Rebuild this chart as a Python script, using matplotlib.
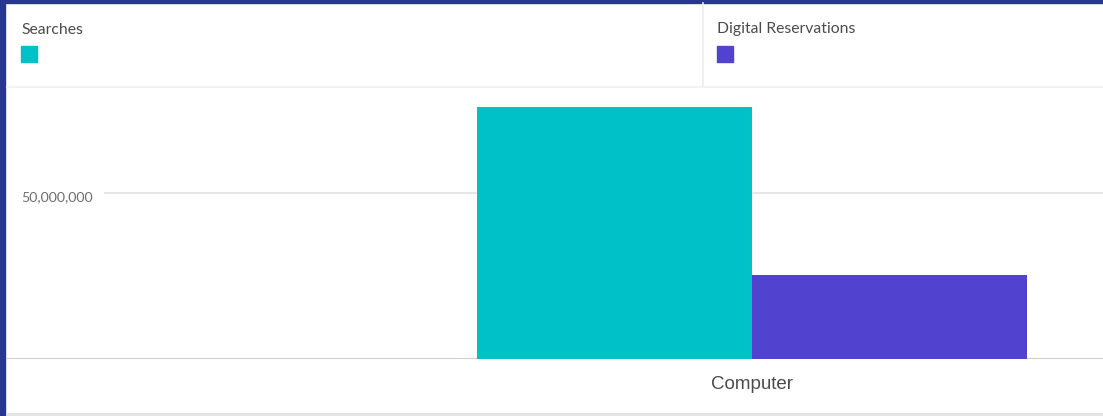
import matplotlib
matplotlib.use('Agg')
import matplotlib.pyplot as plt
from matplotlib.patches import Rectangle
from matplotlib.lines import Line2D
from matplotlib.transforms import ScaledTranslation

# ---- data ----
categories = ['Computer']
series_names = ['Searches', 'Digital Reservations']
searches = [76.0e6]
digital_reservations = [25.2e6]
ytick_values = [50_000_000]
ytick_labels = ['50,000,000']
colors = ['#00c1c8', '#5143cf']

W, H = 1103, 416
fig = plt.figure(figsize=(W / 100, H / 100), dpi=100)
fig.patch.set_facecolor('white')

def fx(px):
    return px / W

def fy(py):
    return 1 - py / H

# plot axes
ax_left, ax_right, ax_top, ax_bottom = 7, 1103, 87, 358.5
ax = fig.add_axes([fx(ax_left), fy(ax_bottom), fx(ax_right) - fx(ax_left), fy(ax_top) - fy(ax_bottom)])
ax.set_facecolor('white')

bw = 0.5
xs = list(range(len(categories)))
ax.bar([x - bw / 2 for x in xs], searches, width=bw, color=colors[0], zorder=3, linewidth=0)
ax.bar([x + bw / 2 for x in xs], digital_reservations, width=bw, color=colors[1], zorder=3, linewidth=0)

unit = 550.0  # px per category unit
ax.set_xlim(-(752 - ax_left) / unit, (ax_right - 752) / unit)
ax.set_ylim(0, (ax_bottom - ax_top) / 165.5 * 50e6)

for s in ax.spines.values():
    s.set_visible(False)
ax.axhline(0, color='#cfcfcf', lw=2.2, zorder=2)

# gridline
for v in ytick_values:
    ax.axhline(v, xmin=(105 - ax_left) / (ax_right - ax_left), xmax=1, color='#e4e4e4', lw=1.3, zorder=1)

ax.set_yticks(ytick_values)
ax.set_yticklabels(ytick_labels, fontsize=10.2, color='#6e6e6e', fontfamily='Lato', ha='left')
ax.tick_params(axis='y', length=0, pad=-(21 - ax_left) / 1.389)
for lbl in ax.get_yticklabels():
    lbl.set_transform(lbl.get_transform() + ScaledTranslation(0, -3 / 100, fig.dpi_scale_trans))

ax.set_xticks(xs)
ax.set_xticklabels(categories, fontsize=13.5, color='#4b4b4b', fontfamily='Liberation Sans')
ax.tick_params(axis='x', length=0, pad=12.5)

# legend header
fig.text(fx(21), fy(29.5), series_names[0], fontsize=11.3, color='#4b4b4b', fontfamily='Lato', va='center', ha='left')
fig.text(fx(717), fy(29.5), series_names[1], fontsize=11.3, color='#4b4b4b', fontfamily='Lato', va='center', ha='left')
fig.patches.append(Rectangle((fx(21), fy(62)), fx(16), 16 / H, transform=fig.transFigure, color=colors[0], figure=fig))
fig.patches.append(Rectangle((fx(717), fy(62)), fx(16), 16 / H, transform=fig.transFigure, color=colors[1], figure=fig))

# separators
fig.lines.append(Line2D([fx(703), fx(703)], [fy(3), fy(87)], transform=fig.transFigure, color='#ececec', lw=1.2))
fig.lines.append(Line2D([fx(7), fx(1103)], [fy(87), fy(87)], transform=fig.transFigure, color='#f2f2f2', lw=1.5))
fig.lines.append(Line2D([fx(7), fx(1103)], [fy(414), fy(414)], transform=fig.transFigure, color='#e2e2e2', lw=2))

# frame
fig.patches.append(Rectangle((0, 0), fx(5), 1, transform=fig.transFigure, color='#27368f', figure=fig))
fig.patches.append(Rectangle((0, fy(3)), 1, 3 / H, transform=fig.transFigure, color='#27368f', figure=fig))

fig.savefig('out.png', dpi=100, facecolor='white')
